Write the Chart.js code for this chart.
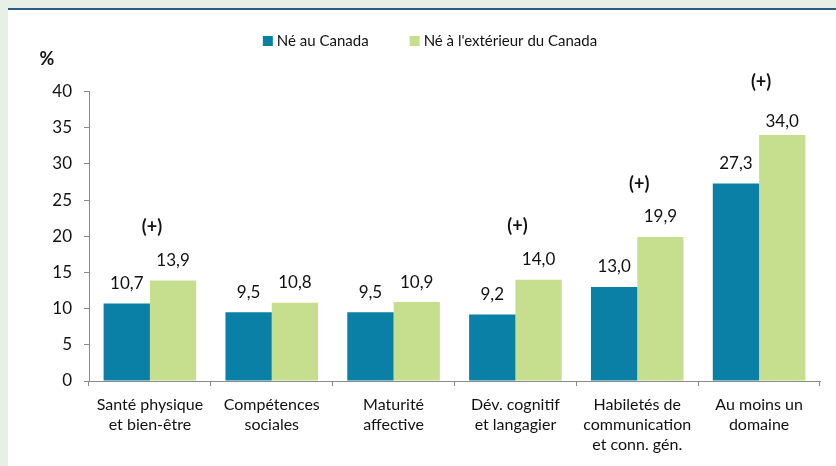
<!DOCTYPE html>
<html>
<head>
<meta charset="utf-8">
<script src="https://cdn.jsdelivr.net/npm/chart.js@4/dist/chart.umd.min.js"></script>
<style>
  html, body { margin: 0; padding: 0; }
  body { width: 836px; height: 466px; background: #e7efe7; position: relative; overflow: hidden; }
  .panel { position: absolute; left: 8px; top: 8px; right: 0; bottom: 0; background: #fff; border-top: 2px solid #2b5d8a; }
  #chart { position: absolute; left: 0; top: 0; }
</style>
</head>
<body>
<div class="panel"></div>
<canvas id="chart" width="836" height="466"></canvas>
<script>
const categories = [
  ['Santé physique', 'et bien-être'],
  ['Compétences', 'sociales'],
  ['Maturité', 'affective'],
  ['Dév. cognitif', 'et langagier'],
  ['Habiletés de', 'communication', 'et conn. gén.'],
  ['Au moins un', 'domaine']
];
const seriesLabels = ['Né au Canada', "Né à l'extérieur du Canada"];
const bornInCanada = [10.7, 9.5, 9.5, 9.2, 13.0, 27.3];
const bornOutside = [13.9, 10.8, 10.9, 14.0, 19.9, 34.0];
const significant = [true, false, false, true, true, true];
const yTicks = [0, 5, 10, 15, 20, 25, 30, 35, 40];

const BLUE = '#0a80a6';
const GREEN = '#c6df8f';
const TEXT = '#111111';
const AXIS = '#8a8a8a';
const FONT = 'Lato, "Liberation Sans", sans-serif';

const fmt = v => v.toFixed(1).replace('.', ',');

// labels above bars, (+) marks, legend and the % unit
const annotations = {
  id: 'annotations',
  afterDatasetsDraw(chart) {
    const { ctx, chartArea } = chart;
    ctx.save();
    ctx.fillStyle = TEXT;
    ctx.textAlign = 'center';
    ctx.textBaseline = 'middle';

    ctx.font = '17px ' + FONT;
    chart.data.datasets.forEach((ds, di) => {
      chart.getDatasetMeta(di).data.forEach((bar, i) => {
        const y = Math.max(bar.y - 20, chartArea.top + 30);
        ctx.fillText(fmt(ds.data[i]), bar.x, y);
      });
    });

    ctx.font = 'bold 18px ' + FONT;
    const blue = chart.getDatasetMeta(0).data;
    const green = chart.getDatasetMeta(1).data;
    significant.forEach((s, i) => {
      if (!s) return;
      const x = (blue[i].x + green[i].x) / 2 + 2;
      ctx.fillText('(+)', x, green[i].y - 53);
    });

    // unit label
    ctx.font = 'bold 18px ' + FONT;
    ctx.fillText('%', 47, 59);

    // legend
    ctx.font = '15px ' + FONT;
    const box = 10, gap = 4, spacing = 41;
    const items = chart.data.datasets.map(ds => ({ text: ds.label, color: ds.backgroundColor }));
    const total = items.reduce((w, it) => w + box + gap + ctx.measureText(it.text).width, 0) + spacing * (items.length - 1);
    let x = 430 - total / 2;
    const ly = 41;
    ctx.textAlign = 'left';
    items.forEach(it => {
      ctx.fillStyle = it.color;
      ctx.fillRect(x, ly - box / 2, box, box);
      x += box + gap;
      ctx.fillStyle = TEXT;
      ctx.fillText(it.text, x, ly);
      x += ctx.measureText(it.text).width + spacing;
    });
    ctx.restore();
  }
};

new Chart(document.getElementById('chart'), {
  type: 'bar',
  data: {
    labels: categories,
    datasets: [
      { label: seriesLabels[0], data: bornInCanada, backgroundColor: BLUE },
      { label: seriesLabels[1], data: bornOutside, backgroundColor: GREEN }
    ]
  },
  options: {
    responsive: false,
    animation: false,
    layout: { padding: { left: 39, right: 16, top: 91.5, bottom: 0 } },
    datasets: {
      bar: { categoryPercentage: 0.76, barPercentage: 1.0 }
    },
    scales: {
      x: {
        grid: { offset: true, drawOnChartArea: false, tickLength: 5, color: AXIS },
        border: { color: AXIS, width: 1 },
        ticks: {
          color: TEXT,
          padding: 9,
          maxRotation: 0,
          autoSkip: false,
          font: { family: FONT, size: 16, lineHeight: 1.25 }
        },
        afterFit: s => { s.height = 85; }
      },
      y: {
        min: 0,
        max: 40,
        grid: { drawOnChartArea: false, tickLength: 5, color: AXIS },
        border: { color: AXIS, width: 1 },
        afterBuildTicks: s => { s.ticks = yTicks.map(v => ({ value: v })); },
        ticks: {
          color: TEXT,
          padding: 12,
          font: { family: FONT, size: 17 }
        },
        afterFit: s => { s.width = 50; }
      }
    },
    plugins: {
      legend: { display: false },
      tooltip: { enabled: false }
    }
  },
  plugins: [annotations]
});
</script>
</body>
</html>
